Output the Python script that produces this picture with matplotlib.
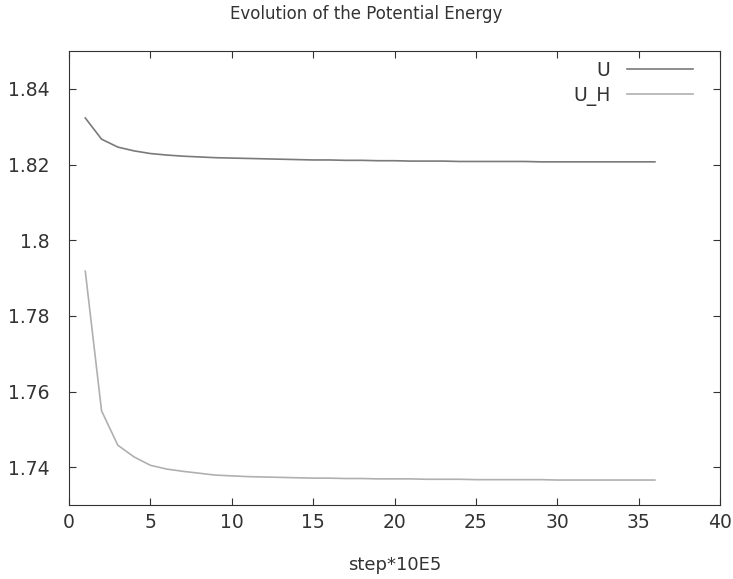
import matplotlib.pyplot as plt
import numpy as np

# Шаги и значения потенциальной энергии
steps = np.arange(1, 37)
u = [1.8323, 1.8267, 1.8246, 1.8236, 1.8229, 1.8225, 1.8222, 1.8220, 1.8218, 1.8217,
     1.8216, 1.8215, 1.8214, 1.8213, 1.8212, 1.8212, 1.8211, 1.8211, 1.8210, 1.8210,
     1.8209, 1.8209, 1.8209, 1.8208, 1.8208, 1.8208, 1.8208, 1.8208, 1.8207, 1.8207,
     1.8207, 1.8207, 1.8207, 1.8207, 1.8207, 1.8207]
u_h = [1.7918, 1.7549, 1.7458, 1.7427, 1.7405, 1.7395, 1.7389, 1.7384, 1.7379, 1.7377,
       1.7375, 1.7374, 1.7373, 1.7372, 1.7371, 1.7371, 1.7370, 1.7370, 1.7369, 1.7369,
       1.7369, 1.7368, 1.7368, 1.7368, 1.7367, 1.7367, 1.7367, 1.7367, 1.7367, 1.7366,
       1.7366, 1.7366, 1.7366, 1.7366, 1.7366, 1.7366]

fig = plt.figure(figsize=(7.33, 5.79), dpi=100)
ax = fig.add_axes([69 / 733, 1 - 505 / 579, (720 - 69) / 733, (505 - 51) / 579])

ax.plot(steps, u, color='#7a7a7a', linewidth=1.2, label='U')
ax.plot(steps, u_h, color='#b0b0b0', linewidth=1.2, label='U_H')

ax.set_xlim(0, 40)
ax.set_ylim(1.73, 1.85)
ax.set_xticks(range(0, 41, 5))
ax.set_yticks([1.74, 1.76, 1.78, 1.80, 1.82, 1.84])
ax.set_yticklabels(['1.74', '1.76', '1.78', '1.8', '1.82', '1.84'])
ax.tick_params(direction='in', top=True, right=True, length=5, labelsize=13.5,
               colors='#333333')
ax.tick_params(axis='y', pad=14)
ax.tick_params(axis='x', pad=6)
for s in ax.spines.values():
    s.set_color('#333333')

ax.set_xlabel('step*10E5', fontsize=13, color='#333333', labelpad=17)
fig.text(0.5, 1 - 14 / 579, 'Evolution of the Potential Energy', ha='center', va='center',
         fontsize=12, color='#333333')

ax.legend(loc='upper right', bbox_to_anchor=(0.9585, 0.978), frameon=False,
          markerfirst=False, fontsize=13.5, handlelength=3.5, borderaxespad=0,
          borderpad=0, labelspacing=0.3, handletextpad=0.9, labelcolor='#333333')

plt.savefig('out.png', dpi=100)
